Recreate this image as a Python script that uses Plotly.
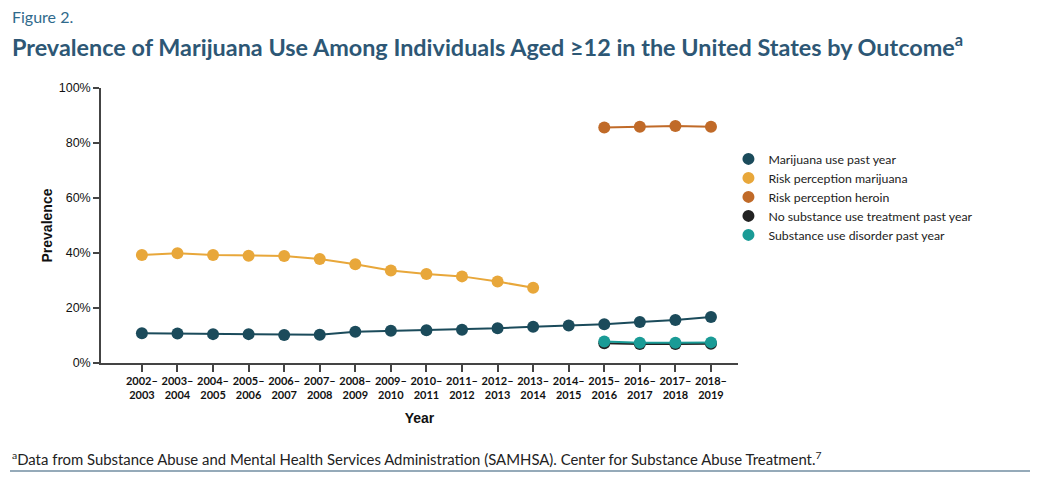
import plotly.graph_objects as go

years = ["2002–2003", "2003–2004", "2004–2005", "2005–2006", "2006–2007", "2007–2008",
         "2008–2009", "2009–2010", "2010–2011", "2011–2012", "2012–2013", "2013–2014",
         "2014–2015", "2015–2016", "2016–2017", "2017–2018", "2018–2019"]
tick_labels = [y.replace("–", "–<br>") for y in years]

marijuana_use = [10.8, 10.7, 10.5, 10.5, 10.2, 10.3, 11.4, 11.7, 11.9, 12.1, 12.6, 13.2,
                 13.6, 14.1, 14.9, 15.6, 16.7]
risk_marijuana = [39.3, 39.9, 39.3, 39.0, 38.9, 37.8, 35.9, 33.6, 32.4, 31.5, 29.6, 27.4,
                  None, None, None, None, None]
risk_heroin = [None] * 13 + [85.6, 85.9, 86.2, 85.9]
no_treatment = [None] * 13 + [7.2, 6.9, 6.9, 7.0]
sud = [None] * 13 + [7.8, 7.4, 7.4, 7.5]

series = [
    ("Marijuana use past year", marijuana_use, "#1b4b5b"),
    ("Risk perception marijuana", risk_marijuana, "#e8a73a"),
    ("Risk perception heroin", risk_heroin, "#c06a28"),
    ("No substance use treatment past year", no_treatment, "#222222"),
    ("Substance use disorder past year", sud, "#1a9b96"),
]

fig = go.Figure()
draw_order = [3, 4, 0, 1, 2]
for i in draw_order:
    name, vals, col = series[i]
    fig.add_trace(go.Scatter(
        x=list(range(len(years))), y=vals, name=name, mode="lines+markers",
        line=dict(color=col, width=2), marker=dict(color=col, size=12),
        connectgaps=False, showlegend=False, hoverinfo="x+y+name"))
# legend entries: markers only, as in the reference
for i, (name, vals, col) in enumerate(series):
    fig.add_trace(go.Scatter(
        x=[None], y=[None], name=name, mode="markers",
        marker=dict(color=col, size=12), legendrank=i, showlegend=True))

axis_font = "Arial, Liberation Sans, sans-serif"
narrow = "Lato, Roboto, sans-serif"

# page body adds an 8px offset, so the plot box is placed 8px up/left
L, T, W, H = 93, 80, 637, 275
fig.update_layout(
    width=1043, height=483,
    margin=dict(l=L, r=1043 - L - W, t=T, b=483 - T - H),
    paper_bgcolor="white", plot_bgcolor="white",
    showlegend=True,
    legend=dict(x=0.985, y=0.795, xanchor="left", yanchor="top", itemwidth=30,
                font=dict(family="Lato, Liberation Sans, sans-serif", size=12.3, color="#222"),
                tracegroupgap=0, itemsizing="constant", bgcolor="rgba(0,0,0,0)"),
    xaxis=dict(range=[-1.15, 16.76], tickmode="array", tickvals=list(range(len(years))),
               ticktext=tick_labels, tickangle=0, automargin=False,
               showline=True, linecolor="#444", linewidth=1.5,
               ticks="outside", ticklen=7, tickcolor="#444", tickwidth=1.5,
               showgrid=False, zeroline=False,
               tickfont=dict(family=narrow, size=11, color="#111", weight="bold"),
               title=dict(text="Year", font=dict(family=axis_font, size=14, color="#111", weight="bold"),
                          standoff=13)),
    yaxis=dict(range=[0, 100], tickvals=[0, 20, 40, 60, 80, 100],
               ticktext=["0%", "20%", "40%", "60%", "80%", "100%"], automargin=False,
               showline=True, linecolor="#444", linewidth=1.5,
               ticks="outside", ticklen=6, tickcolor="#444", tickwidth=1.5,
               showgrid=False, zeroline=False,
               tickfont=dict(family=axis_font, size=12.5, color="#111"),
               title=dict(text="Prevalence", font=dict(family=axis_font, size=14, color="#111", weight="bold"),
                          standoff=3)),
)

def px(xp):
    return (xp - 101) / float(W)

def py(yp):
    return (363 - yp) / float(H)

fig.add_annotation(x=px(10), y=py(17), xref="paper", yref="paper", xanchor="left", yanchor="middle",
                   text="Figure 2.", showarrow=False,
                   font=dict(family=narrow, size=16, color="#2f6a8c"))
fig.add_annotation(x=px(10), y=py(46), xref="paper", yref="paper", xanchor="left", yanchor="middle",
                   text="Prevalence of Marijuana Use Among Individuals Aged ≥12 in the United States by Outcome<sup>a</sup>",
                   showarrow=False,
                   font=dict(family=narrow, size=23.4, color="#2d5775", weight="bold"))
fig.add_annotation(x=px(10), y=py(458), xref="paper", yref="paper", xanchor="left", yanchor="middle",
                   text="<sup>a</sup>Data from Substance Abuse and Mental Health Services Administration (SAMHSA). Center for Substance Abuse Treatment.<sup>7</sup>",
                   showarrow=False,
                   font=dict(family=narrow, size=14.9, color="#222"))
fig.add_shape(type="line", xref="paper", yref="paper", x0=px(10), x1=px(1030), y0=py(471), y1=py(471),
              line=dict(color="#2d5775", width=1.2))

fig.write_html("out.html")
